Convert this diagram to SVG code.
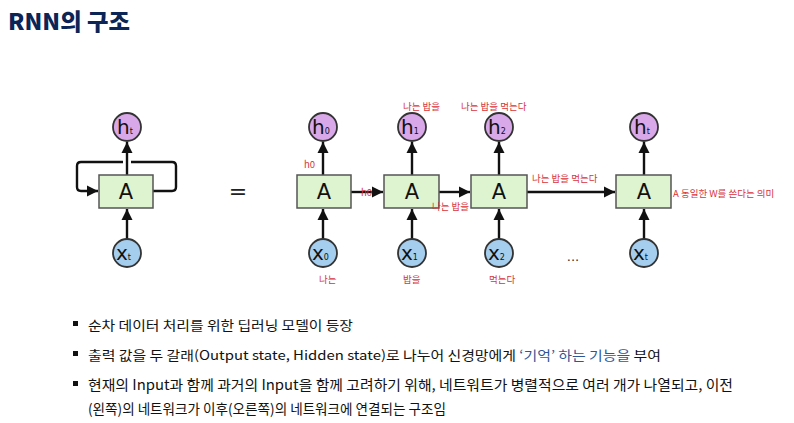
<svg xmlns="http://www.w3.org/2000/svg" width="794" height="423" viewBox="0 0 794 423">
<style>
.box{fill:#def4d0;stroke:#555;stroke-width:1.5}
.hc{fill:#d9a8e8;stroke:#333;stroke-width:1.8}
.xc{fill:#a4cdee;stroke:#333;stroke-width:1.8}
.ln{fill:none;stroke:#111;stroke-width:2.4}
.A{font-family:"DejaVu Sans","Liberation Sans",sans-serif;font-size:21px;fill:#111;text-anchor:middle}
.v{font-family:"DejaVu Sans","Liberation Sans",sans-serif;font-size:20px;fill:#111}
.s{font-size:8px}
.lb{font-family:"Noto Sans CJK KR","Noto Sans",sans-serif;font-size:9.5px;fill:#d8343a}
.bt{font-family:"Noto Sans CJK KR","Noto Sans",sans-serif;font-size:13px;fill:#111}
.bt2{font-family:"Noto Sans CJK KR","Noto Sans",sans-serif;font-size:14px;fill:#111}
.blue{fill:#2f5597}
</style>
<defs>
<marker id="ar" markerUnits="userSpaceOnUse" markerWidth="12" markerHeight="12" refX="11" refY="6" orient="auto">
<path d="M0,0.5 L11,6 L0,11.5 Z" fill="#111"/>
</marker>
</defs>
<text x="8" y="30" font-family="Noto Sans CJK KR,sans-serif" font-size="23" font-weight="900" fill="#0b2557" textLength="122" lengthAdjust="spacingAndGlyphs">RNN의 구조</text>

<g id="connectors">
<path class="ln" d="M127,239 V209" marker-end="url(#ar)"/>
<path class="ln" d="M127,175 V142" marker-end="url(#ar)"/>
<path class="ln" d="M152,191 H172 Q176,191 176,187 V166 Q176,162 172,162 H131"/>
<path class="ln" d="M123,162 H81 Q77,162 77,166 V187 Q77,191 81,191 H98" marker-end="url(#ar)"/>
<path class="ln" d="M323,239 V209" marker-end="url(#ar)"/>
<path class="ln" d="M323,175 V142" marker-end="url(#ar)"/>
<path class="ln" d="M412,239 V209" marker-end="url(#ar)"/>
<path class="ln" d="M412,175 V142" marker-end="url(#ar)"/>
<path class="ln" d="M499,239 V209" marker-end="url(#ar)"/>
<path class="ln" d="M499,175 V142" marker-end="url(#ar)"/>
<path class="ln" d="M644,239 V209" marker-end="url(#ar)"/>
<path class="ln" d="M644,175 V142" marker-end="url(#ar)"/>
<path class="ln" d="M351,192 H383" marker-end="url(#ar)"/>
<path class="ln" d="M439,192 H470" marker-end="url(#ar)"/>
<path class="ln" d="M527,192 H615" marker-end="url(#ar)"/>
</g>

<g id="loop-cell">
<rect class="box" x="99" y="175" width="54" height="33"/>
<text class="A" x="126" y="199">A</text>
</g>
<g id="loop-h"><circle class="hc" cx="127" cy="127" r="14"/><text class="v" x="117" y="134">h<tspan class="s">t</tspan></text></g>
<g id="loop-x"><circle class="xc" cx="127" cy="253" r="14"/><text class="v" x="116" y="260">x<tspan class="s">t</tspan></text></g>
<text x="238" y="199" font-family="DejaVu Sans,sans-serif" font-size="22" fill="#222" text-anchor="middle">=</text>

<g id="cell0"><rect class="box" x="297" y="175" width="54" height="33"/><text class="A" x="324" y="199">A</text></g>
<g id="h0"><circle class="hc" cx="323" cy="127" r="14"/><text class="v" x="312" y="134">h<tspan class="s">0</tspan></text></g>
<g id="x0"><circle class="xc" cx="323" cy="253" r="14"/><text class="v" x="312" y="260">x<tspan class="s">0</tspan></text></g>

<g id="cell1"><rect class="box" x="384" y="175" width="55" height="33"/><text class="A" x="412" y="199">A</text></g>
<g id="h1"><circle class="hc" cx="412" cy="127" r="14"/><text class="v" x="401" y="134">h<tspan class="s">1</tspan></text></g>
<g id="x1"><circle class="xc" cx="412" cy="253" r="14"/><text class="v" x="401" y="260">x<tspan class="s">1</tspan></text></g>

<g id="cell2"><rect class="box" x="471" y="175" width="56" height="33"/><text class="A" x="499" y="199">A</text></g>
<g id="h2"><circle class="hc" cx="499" cy="127" r="14"/><text class="v" x="488" y="134">h<tspan class="s">2</tspan></text></g>
<g id="x2"><circle class="xc" cx="499" cy="253" r="14"/><text class="v" x="488" y="260">x<tspan class="s">2</tspan></text></g>

<g id="cellt"><rect class="box" x="616" y="175" width="55" height="33"/><text class="A" x="644" y="199">A</text></g>
<g id="ht"><circle class="hc" cx="644" cy="127" r="14"/><text class="v" x="634" y="134">h<tspan class="s">t</tspan></text></g>
<g id="xt"><circle class="xc" cx="644" cy="253" r="14"/><text class="v" x="633" y="260">x<tspan class="s">t</tspan></text></g>

<text x="573" y="261" font-family="DejaVu Sans,sans-serif" font-size="13" fill="#333" text-anchor="middle">...</text>

<g id="labels">
<text class="lb" x="304" y="168">h0</text>
<text class="lb" x="361" y="196">h0</text>
<text class="lb" x="403" y="110">나는 밥을</text>
<text class="lb" x="461" y="110">나는 밥을 먹는다</text>
<text class="lb" x="432" y="210">나는 밥을</text>
<text class="lb" x="532" y="182">나는 밥을 먹는다</text>
<text class="lb" x="673" y="197">A 동일한 W를 쓴다는 의미</text>
<text class="lb" x="319" y="283">나는</text>
<text class="lb" x="403" y="283">밥을</text>
<text class="lb" x="489" y="283">먹는다</text>
</g>

<g id="bullets">
<rect x="73" y="321" width="5" height="5" fill="#111"/>
<text class="bt" x="88" y="330" textLength="265" lengthAdjust="spacingAndGlyphs">순차 데이터 처리를 위한 딥러닝 모델이 등장</text>
<rect x="73" y="351" width="5" height="5" fill="#111"/>
<text class="bt" x="88" y="360" textLength="573" lengthAdjust="spacingAndGlyphs">출력 값을 두 갈래(Output state, Hidden state)로 나누어 신경망에게 <tspan class="blue">‘기억’ 하는 기능을</tspan> 부여</text>
<rect x="73" y="381" width="5" height="5" fill="#111"/>
<text class="bt2" x="88" y="390" textLength="645" lengthAdjust="spacingAndGlyphs">현재의 Input과 함께 과거의 Input을 함께 고려하기 위해, 네트워트가 병렬적으로 여러 개가 나열되고, 이전</text>
<text class="bt2" x="88" y="414" textLength="358" lengthAdjust="spacingAndGlyphs">(왼쪽)의 네트워크가 이후(오른쪽)의 네트워크에 연결되는 구조임</text>
</g>
</svg>
